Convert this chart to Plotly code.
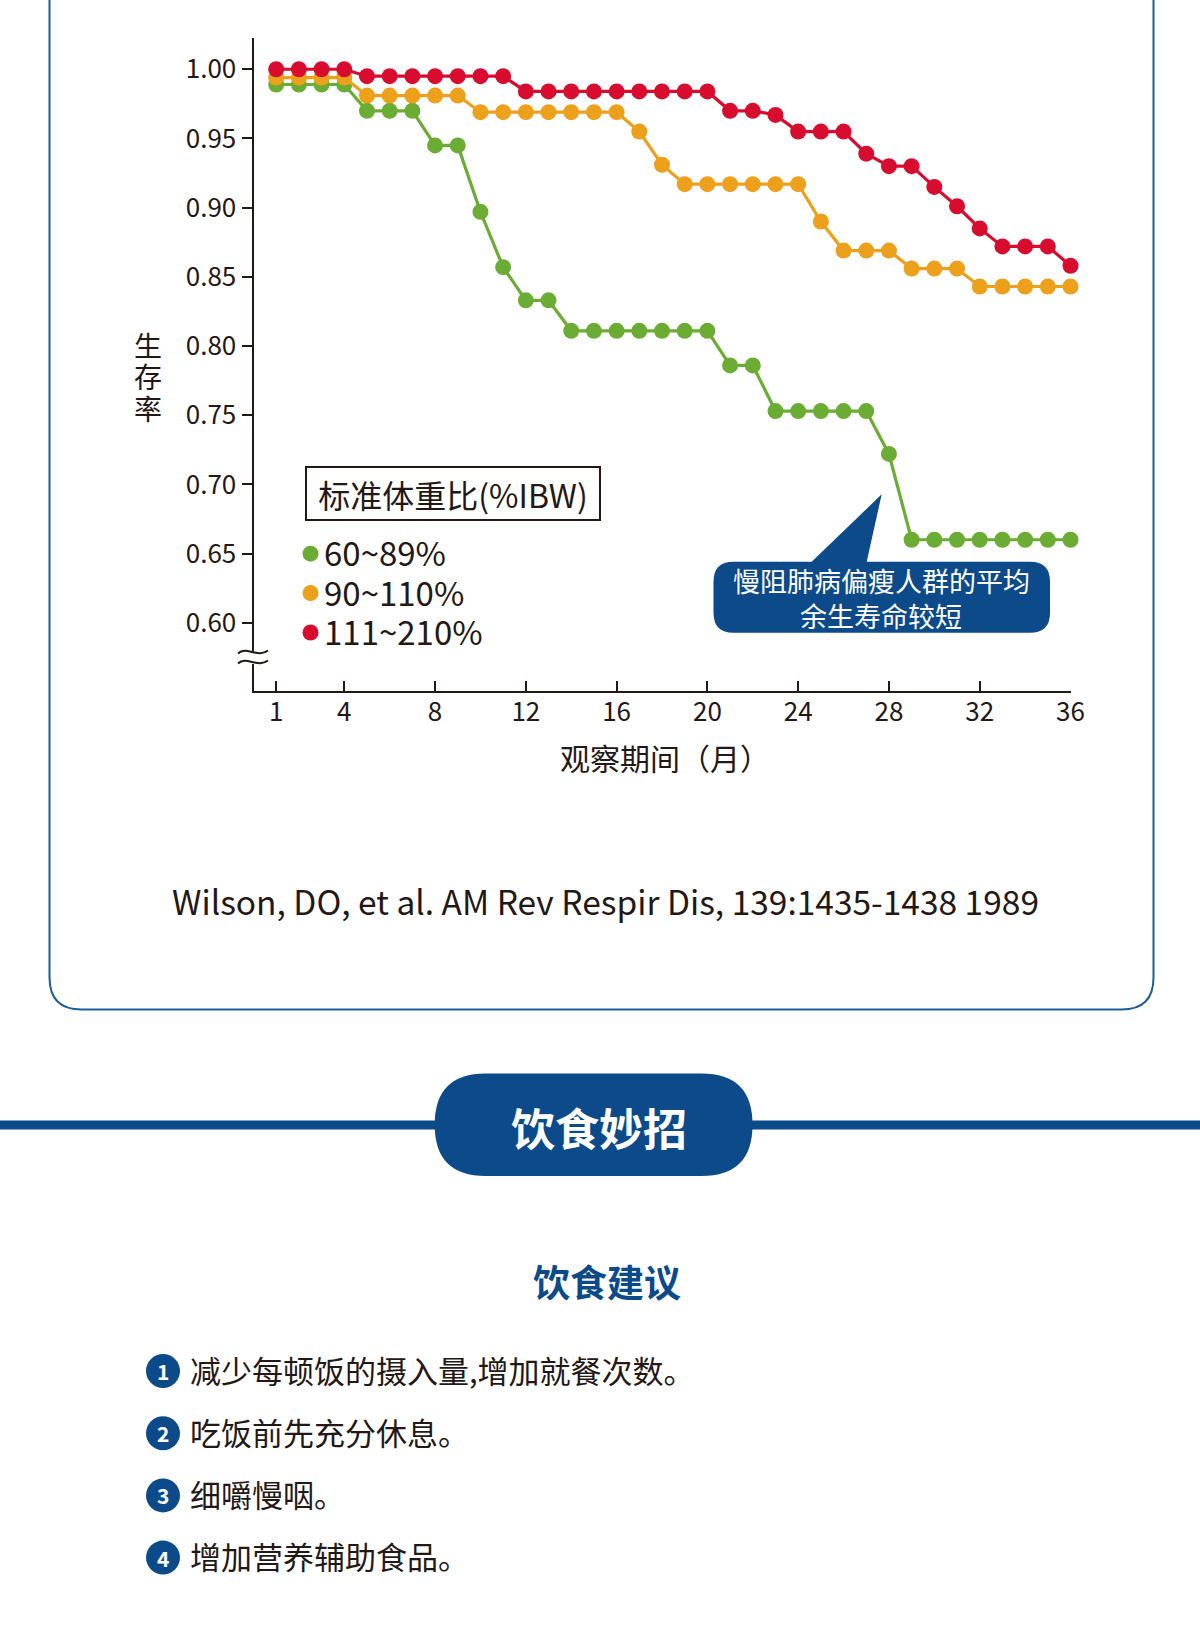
import plotly.graph_objects as go

W, H = 1200, 1650
FONT = "Noto Sans CJK SC"
INK = "#231815"
BLUE = "#0c4a8a"

# ---------------- data ----------------
months = [1, 2, 3, 4, 5, 6, 7, 8, 9, 10, 11, 12, 13, 14, 15, 16, 17, 18,
          19, 20, 21, 22, 23, 24, 25, 26, 27, 28, 29, 30, 31, 32, 33, 34, 35, 36]
series_names = ["60~89%", "90~110%", "111~210%"]
series_colors = ["#6bac34", "#eca01c", "#d80c2f"]
green = [0.989, 0.989, 0.989, 0.989, 0.970, 0.970, 0.970, 0.945, 0.945, 0.897,
         0.857, 0.833, 0.833, 0.811, 0.811, 0.811, 0.811, 0.811, 0.811, 0.811,
         0.786, 0.786, 0.753, 0.753, 0.753, 0.753, 0.753, 0.722, 0.660, 0.660,
         0.660, 0.660, 0.660, 0.660, 0.660, 0.660]
orange = [0.994, 0.994, 0.994, 0.994, 0.981, 0.981, 0.981, 0.981, 0.981, 0.969,
          0.969, 0.969, 0.969, 0.969, 0.969, 0.969, 0.955, 0.931, 0.917, 0.917,
          0.917, 0.917, 0.917, 0.917, 0.890, 0.869, 0.869, 0.869, 0.856, 0.856,
          0.856, 0.843, 0.843, 0.843, 0.843, 0.843]
red = [1.000, 1.000, 1.000, 1.000, 0.995, 0.995, 0.995, 0.995, 0.995, 0.995,
       0.995, 0.984, 0.984, 0.984, 0.984, 0.984, 0.984, 0.984, 0.984, 0.984,
       0.970, 0.970, 0.967, 0.955, 0.955, 0.955, 0.939, 0.930, 0.930, 0.915,
       0.901, 0.885, 0.872, 0.872, 0.872, 0.858]
x_tickvals = [1, 4, 8, 12, 16, 20, 24, 28, 32, 36]
y_tickvals = [0.60, 0.65, 0.70, 0.75, 0.80, 0.85, 0.90, 0.95, 1.00]
y_title = "生存率"
x_title = "观察期间（月）"
legend_title = "标准体重比(%IBW)"
callout_lines = ["慢阻肺病偏瘦人群的平均", "余生寿命较短"]
citation = "Wilson, DO, et al. AM Rev Respir Dis, 139:1435-1438 1989"
section_title = "饮食妙招"
sub_title = "饮食建议"
tips = ["减少每顿饭的摄入量,增加就餐次数。", "吃饭前先充分休息。", "细嚼慢咽。", "增加营养辅助食品。"]


def px(x):
    return x / W


def py(y):
    return 1 - y / H


def rrect_path(x0, y0, x1, y1, r):
    X0, X1 = px(x0), px(x1)
    rx, ry = r / W, r / H
    Y0, Y1 = py(y0), py(y1)  # Y0 top, Y1 bottom
    return (f"M {X0+rx},{Y0} L {X1-rx},{Y0} Q {X1},{Y0} {X1},{Y0-ry} "
            f"L {X1},{Y1+ry} Q {X1},{Y1} {X1-rx},{Y1} L {X0+rx},{Y1} "
            f"Q {X0},{Y1} {X0},{Y1+ry} L {X0},{Y0-ry} Q {X0},{Y0} {X0+rx},{Y0} Z")


fig = go.Figure()
for name, vals, col in zip(series_names, [green, orange, red], series_colors):
    fig.add_trace(go.Scatter(
        x=months, y=vals, mode="lines+markers", name=name,
        line=dict(color=col, width=3.2),
        marker=dict(size=16, color=col),
        cliponaxis=False, showlegend=False, hoverinfo="skip"))

x_left, x_right = 253.5, 1070.5
y_top, y_bot = 38, 691

fig.update_layout(
    width=W, height=H, autosize=False,
    margin=dict(l=0, r=0, t=0, b=0, pad=0, autoexpand=False),
    showlegend=False,
    paper_bgcolor="white", plot_bgcolor="rgba(0,0,0,0)",
    font=dict(family=FONT, color=INK),
    xaxis=dict(domain=[px(x_left), px(x_right)], range=[0, 36], automargin=False,
               showgrid=False, zeroline=False, showline=True,
               linecolor=INK, linewidth=2, ticks="inside", ticklen=10,
               tickwidth=2, tickcolor=INK, tickvals=x_tickvals,
               ticklabelstandoff=-3,
               tickfont=dict(size=26, family=FONT, color=INK)),
    yaxis=dict(domain=[py(y_bot), py(y_top)], range=[0.5507, 1.0226], automargin=False,
               showgrid=False, zeroline=False, showline=True,
               linecolor=INK, linewidth=2, ticks="outside", ticklen=10,
               tickwidth=2, tickcolor=INK, tickvals=y_tickvals,
               tickformat=".2f",
               tickfont=dict(size=26, family=FONT, color=INK)),
)

shapes = []
anns = []

# outer card
shapes.append(dict(type="path", xref="paper", yref="paper",
                   path=rrect_path(49.5, -60, 1153.5, 1009.5, 32),
                   line=dict(color="#1d5c9c", width=2), fillcolor="rgba(0,0,0,0)",
                   layer="below"))

# axis break
shapes.append(dict(type="rect", xref="paper", yref="paper",
                   x0=px(248), x1=px(259), y0=py(664), y1=py(652),
                   fillcolor="white", line=dict(width=0), layer="above"))
for yb in [651.5, 661.5]:
    shapes.append(dict(type="path", xref="paper", yref="paper",
                       path=(f"M {px(238)},{py(yb+2)} C {px(246)},{py(yb-6)} "
                             f"{px(258)},{py(yb+7)} {px(268)},{py(yb-1)}"),
                       line=dict(color=INK, width=2), layer="above"))

# y title (stacked characters)
for i, ch in enumerate(y_title):
    anns.append(dict(text=ch, xref="paper", yref="paper", x=px(148), y=py(345 + 31.5 * i),
                     xanchor="center", yanchor="middle", showarrow=False, height=30,
                     font=dict(size=28, family=FONT, color=INK)))
# x title
anns.append(dict(text=x_title, xref="paper", yref="paper", x=px(665), y=py(757),
                 xanchor="center", yanchor="middle", showarrow=False,
                 font=dict(size=30, family=FONT, color=INK)))

# legend
anns.append(dict(text=legend_title, xref="paper", yref="paper", x=px(453), y=py(493.7),
                 xanchor="center", yanchor="middle", showarrow=False,
                 width=288, height=47,
                 bordercolor=INK, borderwidth=2, borderpad=2, bgcolor="white",
                 font=dict(size=32, family=FONT, color=INK)))
for i, (name, col) in enumerate(zip(series_names, series_colors)):
    yy = 553.7 + 39.4 * i
    shapes.append(dict(type="circle", xref="paper", yref="paper",
                       x0=px(302.5), x1=px(318.5), y0=py(yy + 8), y1=py(yy - 8),
                       fillcolor=col, line=dict(width=0)))
    anns.append(dict(text=name, xref="paper", yref="paper", x=px(322), y=py(yy - 1.5),
                     xanchor="left", yanchor="middle", showarrow=False, height=36,
                     font=dict(size=33, family=FONT, color=INK)))

# callout
bx0, by0, bx1, by1, r = 713.5, 561.7, 1050, 632.7, 20
X0, X1, Y0, Y1 = px(bx0), px(bx1), py(by0), py(by1)
rx, ry = r / W, r / H
callout_path = (f"M {X0+rx},{Y0} L {px(811.7)},{Y0} L {px(881.7)},{py(494.3)} "
                f"L {px(866.7)},{Y0} L {X1-rx},{Y0} Q {X1},{Y0} {X1},{Y0-ry} "
                f"L {X1},{Y1+ry} Q {X1},{Y1} {X1-rx},{Y1} L {X0+rx},{Y1} "
                f"Q {X0},{Y1} {X0},{Y1+ry} L {X0},{Y0-ry} Q {X0},{Y0} {X0+rx},{Y0} Z")
shapes.append(dict(type="path", xref="paper", yref="paper", path=callout_path,
                   fillcolor=BLUE, line=dict(width=0), layer="above"))
for i, t in enumerate(callout_lines):
    anns.append(dict(text=t, xref="paper", yref="paper", x=px(881), y=py(580.5 + 35 * i),
                     xanchor="center", yanchor="middle", showarrow=False,
                     font=dict(size=27, family=FONT, color="white")))

# citation
anns.append(dict(text=citation, xref="paper", yref="paper", x=px(605), y=py(901),
                 xanchor="center", yanchor="middle", showarrow=False,
                 font=dict(size=33.5, family=FONT, color=INK)))

# section band + pill
shapes.append(dict(type="rect", xref="paper", yref="paper",
                   x0=0, x1=1, y0=py(1129.5), y1=py(1120.5),
                   fillcolor=BLUE, line=dict(width=0), layer="below"))
shapes.append(dict(type="path", xref="paper", yref="paper",
                   path=rrect_path(434.7, 1073.5, 752.5, 1176, 51),
                   fillcolor=BLUE, line=dict(width=0), layer="below"))
anns.append(dict(text=f"<b>{section_title}</b>", xref="paper", yref="paper", x=px(599), y=py(1127),
                 xanchor="center", yanchor="middle", showarrow=False,
                 font=dict(size=44, family=FONT, color="white")))

anns.append(dict(text=f"<b>{sub_title}</b>", xref="paper", yref="paper", x=px(607), y=py(1281),
                 xanchor="center", yanchor="middle", showarrow=False,
                 font=dict(size=37, family=FONT, color=BLUE)))

for i, t in enumerate(tips):
    cy = 1371 + 62.2 * i
    shapes.append(dict(type="circle", xref="paper", yref="paper",
                       x0=px(146), x1=px(180), y0=py(cy + 17), y1=py(cy - 17),
                       fillcolor=BLUE, line=dict(width=0)))
    anns.append(dict(text=f"<b>{i+1}</b>", xref="paper", yref="paper", x=px(163), y=py(cy),
                     xanchor="center", yanchor="middle", showarrow=False,
                     font=dict(size=21, family=FONT, color="white")))
    anns.append(dict(text=t, xref="paper", yref="paper", x=px(188), y=py(cy - 2),
                     xanchor="left", yanchor="middle", showarrow=False,
                     font=dict(size=31, family=FONT, color=INK)))

fig.update_layout(shapes=shapes, annotations=anns)
fig.write_html("out.html")
